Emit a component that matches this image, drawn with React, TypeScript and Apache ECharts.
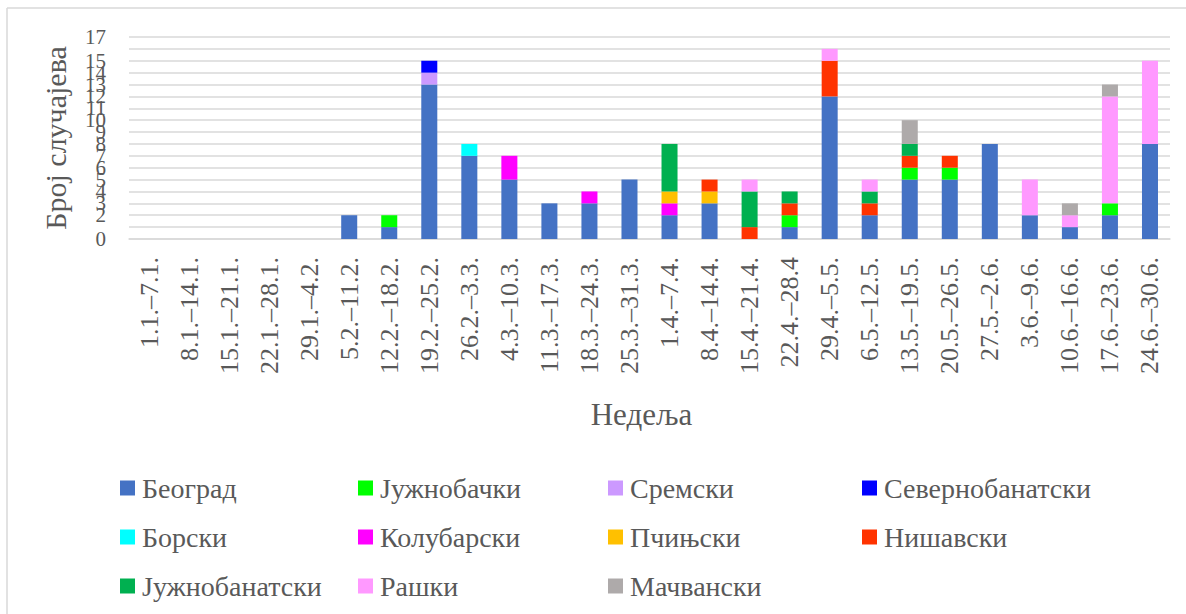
import React, { useEffect, useRef } from "react";
import * as echarts from "echarts";

const weeks = [
  "1.1.–7.1.", "8.1.–14.1.", "15.1.–21.1.", "22.1.–28.1.", "29.1.–4.2.",
  "5.2.–11.2.", "12.2.–18.2.", "19.2.–25.2.", "26.2.–3.3.", "4.3.–10.3.",
  "11.3.–17.3.", "18.3.–24.3.", "25.3.–31.3.", "1.4.–7.4.", "8.4.–14.4.",
  "15.4.–21.4.", "22.4.–28.4", "29.4.–5.5.", "6.5.–12.5.", "13.5.–19.5.",
  "20.5.–26.5.", "27.5.–2.6.", "3.6.–9.6.", "10.6.–16.6.", "17.6.–23.6.",
  "24.6.–30.6.",
];

const beograd =         [0,0,0,0,0,2,1,13,7,5,3,3,5,2,3,0,1,12,2,5,5,8,2,1,2,8];
const juznobacki =      [0,0,0,0,0,0,1,0,0,0,0,0,0,0,0,0,1,0,0,1,1,0,0,0,1,0];
const sremski =         [0,0,0,0,0,0,0,1,0,0,0,0,0,0,0,0,0,0,0,0,0,0,0,0,0,0];
const severnobanatski = [0,0,0,0,0,0,0,1,0,0,0,0,0,0,0,0,0,0,0,0,0,0,0,0,0,0];
const borski =          [0,0,0,0,0,0,0,0,1,0,0,0,0,0,0,0,0,0,0,0,0,0,0,0,0,0];
const kolubarski =      [0,0,0,0,0,0,0,0,0,2,0,1,0,1,0,0,0,0,0,0,0,0,0,0,0,0];
const pcinjski =        [0,0,0,0,0,0,0,0,0,0,0,0,0,1,1,0,0,0,0,0,0,0,0,0,0,0];
const nisavski =        [0,0,0,0,0,0,0,0,0,0,0,0,0,0,1,1,1,3,1,1,1,0,0,0,0,0];
const juznobanatski =   [0,0,0,0,0,0,0,0,0,0,0,0,0,4,0,3,1,0,1,1,0,0,0,0,0,0];
const raski =           [0,0,0,0,0,0,0,0,0,0,0,0,0,0,0,1,0,1,1,0,0,0,3,1,9,7];
const macvanski =       [0,0,0,0,0,0,0,0,0,0,0,0,0,0,0,0,0,0,0,2,0,0,0,1,1,0];

const seriesNames = [
  "Београд", "Јужнобачки", "Сремски", "Севернобанатски", "Борски", "Колубарски",
  "Пчињски", "Нишавски", "Јужнобанатски", "Рашки", "Мачвански",
];
const seriesValues = [
  beograd, juznobacki, sremski, severnobanatski, borski, kolubarski,
  pcinjski, nisavski, juznobanatski, raski, macvanski,
];
const seriesColors = [
  "#4472C4", "#00FF00", "#CC99FF", "#0000FF", "#00FFFF", "#FF00FF",
  "#FFC000", "#FF3300", "#00B050", "#FF99FF", "#AEAAAA",
];

const yTicks = { min: 0, max: 17, interval: 1 };
const yAxisName = "Број случајева";
const xAxisName = "Недеља";

const legendColumns = [
  ["Београд", "Борски", "Јужнобанатски"],
  ["Јужнобачки", "Колубарски", "Рашки"],
  ["Сремски", "Пчињски", "Мачвански"],
  ["Севернобанатски", "Нишавски"],
];
const legendLefts = [120, 358, 608, 862];

const FONT = "Liberation Serif";
const TXT = "#595959";

export default function App() {
  const ref = useRef<HTMLDivElement>(null);
  useEffect(() => {
    if (!ref.current) return;
    const chart = echarts.init(ref.current, undefined, { renderer: "svg" });
    chart.setOption({
      animation: false,
      backgroundColor: "#ffffff",
      textStyle: { fontFamily: FONT },
      grid: { left: 129, right: 16, top: 37, bottom: 375, containLabel: false },
      xAxis: {
        type: "category",
        data: weeks,
        axisLine: { show: true, lineStyle: { color: "#d9d9d9", width: 1.5 } },
        axisTick: { show: false },
        axisLabel: {
          interval: 0,
          rotate: 90,
          margin: 18,
          fontSize: 26,
          fontFamily: FONT,
          color: TXT,
        },
        name: xAxisName,
        nameLocation: "middle",
        nameGap: 160,
        nameTextStyle: { fontSize: 31, fontFamily: FONT, color: TXT, padding: [0, 16, 0, 0] },
      },
      yAxis: {
        type: "value",
        min: yTicks.min,
        max: yTicks.max,
        interval: yTicks.interval,
        axisLine: { show: false },
        axisTick: { show: false },
        splitLine: { show: true, lineStyle: { color: "#d9d9d9", width: 1.5 } },
        axisLabel: {
          margin: 23,
          fontSize: 21,
          fontFamily: FONT,
          color: TXT,
          showMinLabel: true,
          showMaxLabel: true,
          hideOverlap: false,
        },
        name: yAxisName,
        nameLocation: "middle",
        nameRotate: 90,
        nameGap: 59,
        nameTextStyle: { fontSize: 30, fontFamily: FONT, color: TXT },
      },
      legend: legendColumns.map((col, i) => ({
        data: col,
        orient: "vertical",
        left: legendLefts[i],
        top: 474,
        itemWidth: 15,
        itemHeight: 15,
        itemGap: 21,
        padding: 0,
        icon: "rect",
        selectedMode: false,
        textStyle: { fontSize: 28, lineHeight: 28, fontFamily: FONT, color: TXT, padding: [0, 0, 0, 2] },
      })),
      graphic: [
        { type: "line", shape: { x1: 7, y1: 8, x2: 1186, y2: 8 }, style: { stroke: "#d9d9d9", lineWidth: 1.5 } },
        { type: "line", shape: { x1: 7, y1: 8, x2: 7, y2: 614 }, style: { stroke: "#d9d9d9", lineWidth: 1.5 } },
      ],
      series: seriesNames.map((name, i) => ({
        name,
        type: "bar",
        stack: "total",
        barWidth: "40%",
        data: seriesValues[i],
        itemStyle: { color: seriesColors[i] },
        emphasis: { disabled: true },
      })),
    });
    return () => chart.dispose();
  }, []);
  return (
    <div
      ref={ref}
      style={{ position: "absolute", left: 0, top: 0, width: 1186, height: 614 }}
    />
  );
}
